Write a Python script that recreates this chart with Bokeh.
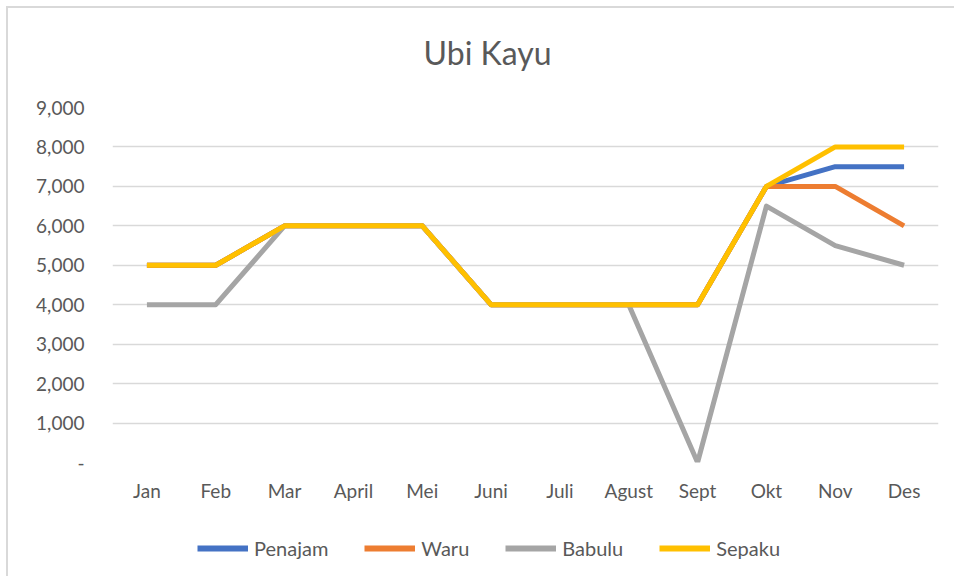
from bokeh.plotting import figure
from bokeh.models import Legend, LegendItem, NumeralTickFormatter, FixedTicker, Range1d, Label
from bokeh.layouts import column
from bokeh.embed import file_html
from bokeh.resources import INLINE

months = ["Jan", "Feb", "Mar", "April", "Mei", "Juni", "Juli", "Agust", "Sept", "Okt", "Nov", "Des"]
penajam = [5000, 5000, 6000, 6000, 6000, 4000, 4000, 4000, 4000, 7000, 7500, 7500]
waru = [5000, 5000, 6000, 6000, 6000, 4000, 4000, 4000, 4000, 7000, 7000, 6000]
babulu = [4000, 4000, 6000, 6000, 6000, 4000, 4000, 4000, 0, 6500, 5500, 5000]
sepaku = [5000, 5000, 6000, 6000, 6000, 4000, 4000, 4000, 4000, 7000, 8000, 8000]
y_ticks = [0, 1000, 2000, 3000, 4000, 5000, 6000, 7000, 8000, 9000]
title_text = "Ubi Kayu"

series = [("Penajam", penajam, "#4472C4"), ("Waru", waru, "#ED7D31"),
          ("Babulu", babulu, "#A5A5A5"), ("Sepaku", sepaku, "#FFC000")]

FONT = "Lato"
TXT = "#595959"


def blank_fig(h):
    f = figure(width=946, height=h, output_backend="svg", toolbar_location=None,
               x_range=Range1d(0, 1), y_range=Range1d(0, 1),
               x_axis_location=None, y_axis_location=None,
               min_border_left=104, min_border_right=16, min_border_top=0, min_border_bottom=0)
    f.outline_line_color = None
    f.grid.visible = False
    return f


# header with the chart title
hd = blank_fig(87)
hd.add_layout(Label(x=0.454, y=0.494, text=title_text, text_font=FONT, text_font_size="32px",
                    text_color=TXT, text_align="center", text_baseline="middle"))

# main chart
p = figure(x_range=months, width=946, height=410, output_backend="svg",
           toolbar_location=None, min_border_left=104, min_border_right=16,
           min_border_top=12, min_border_bottom=43)
p.y_range = Range1d(0, 9000)
p.outline_line_color = None

for name, vals, col in series:
    p.line(months, vals, line_color=col, line_width=5, line_join="round")

p.xgrid.grid_line_color = None
p.ygrid.grid_line_color = "#d9d9d9"
p.ygrid.grid_line_width = 1.5

for ax in (p.xaxis[0], p.yaxis[0]):
    ax.axis_line_color = None
    ax.major_tick_line_color = None
    ax.minor_tick_line_color = None
    ax.major_tick_out = 0
    ax.major_label_text_font = FONT
    ax.major_label_text_font_size = "19px"
    ax.major_label_text_color = TXT

p.yaxis[0].ticker = FixedTicker(ticks=y_ticks)
p.yaxis[0].formatter = NumeralTickFormatter(format="0,0")
p.yaxis[0].major_label_overrides = {0: "-"}
p.yaxis[0].major_label_standoff = 28
p.xaxis[0].major_label_standoff = 16

# legend panel below the chart
lg = blank_fig(71)
items = []
for name, vals, col in series:
    r = lg.line([-2, -1], [-2, -1], line_color=col, line_width=6)
    items.append(LegendItem(label=name, renderers=[r]))

legend = Legend(items=items, orientation="horizontal", location=(85, 16))
legend.label_text_font = FONT
legend.label_text_font_size = "20px"
legend.label_text_color = TXT
legend.glyph_width = 51
legend.glyph_height = 20
legend.label_standoff = 6
legend.spacing = 36
legend.padding = 0
legend.margin = 0
legend.border_line_color = None
legend.background_fill_alpha = 0
lg.add_layout(legend, "center")

layout = column(hd, p, lg, spacing=0)
layout.styles = {"border-left": "2px solid #d9d9d9", "border-top": "2px solid #d9d9d9",
                 "margin-left": "6px", "margin-top": "6px"}

open("out.html", "w").write(file_html(layout, INLINE))
